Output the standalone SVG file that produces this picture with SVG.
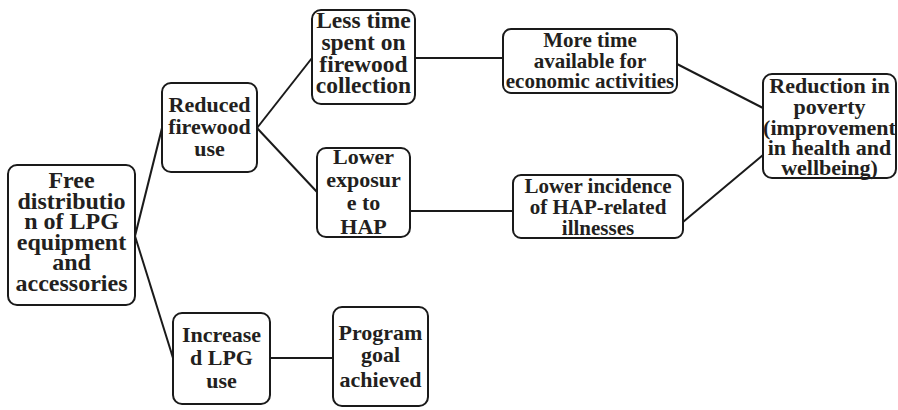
<svg xmlns="http://www.w3.org/2000/svg" width="898" height="410" viewBox="0 0 898 410">
<style>
.box{fill:#fff;stroke:#1a1a1a;stroke-width:2}
.t{font-family:"Liberation Serif","Times New Roman",serif;font-weight:bold;font-size:22px;fill:#231f20;text-anchor:middle}
.big{font-size:24px}
.mid{font-size:23.5px}
.sm{font-size:21px}
.c{stroke:#1a1a1a;stroke-width:2;fill:none}
</style>
<rect width="898" height="410" fill="#fff"/>
<g id="connectors">
<line class="c" x1="135" y1="236" x2="162" y2="128"/>
<line class="c" x1="135" y1="236" x2="173" y2="358"/>
<line class="c" x1="257" y1="128" x2="312" y2="58"/>
<line class="c" x1="257" y1="128" x2="317" y2="192"/>
<line class="c" x1="415" y1="58" x2="503" y2="58"/>
<line class="c" x1="410" y1="211" x2="513" y2="211"/>
<line class="c" x1="677" y1="64" x2="763" y2="108"/>
<line class="c" x1="683" y1="222" x2="763" y2="155"/>
<line class="c" x1="270" y1="358" x2="333" y2="358"/>
</g>
<g id="n1">
<rect class="box" x="8" y="165" width="127" height="140" rx="9"/>
<text class="t big" x="71.5" y="188">Free</text>
<text class="t big" x="71.5" y="208.5">distributio</text>
<text class="t big" x="71.5" y="229">n of LPG</text>
<text class="t big" x="71.5" y="249.5">equipment</text>
<text class="t big" x="71.5" y="270">and</text>
<text class="t big" x="71.5" y="290.5">accessories</text>
</g>
<g id="n2">
<rect class="box" x="162" y="83" width="95" height="89" rx="9"/>
<text class="t" x="209.5" y="112">Reduced</text>
<text class="t" x="209.5" y="134">firewood</text>
<text class="t" x="209.5" y="156">use</text>
</g>
<g id="n3">
<rect class="box" x="312" y="10" width="103" height="94" rx="9"/>
<text class="t mid" x="363.5" y="28">Less time</text>
<text class="t mid" x="363.5" y="49.5">spent on</text>
<text class="t mid" x="363.5" y="71.5">firewood</text>
<text class="t mid" x="363.5" y="93">collection</text>
</g>
<g id="n4">
<rect class="box" x="317" y="148" width="93" height="89" rx="9"/>
<text class="t" x="363.5" y="164">Lower</text>
<text class="t" x="363.5" y="187">exposur</text>
<text class="t" x="363.5" y="210">e to</text>
<text class="t" x="363.5" y="234">HAP</text>
</g>
<g id="n5">
<rect class="box" x="503" y="29" width="174" height="64" rx="8"/>
<text class="t sm" x="590" y="47">More time</text>
<text class="t sm" x="590" y="68">available for</text>
<text class="t sm" x="590" y="88">economic activities</text>
</g>
<g id="n6">
<rect class="box" x="513" y="175" width="170" height="63" rx="8"/>
<text class="t sm" x="598" y="193">Lower incidence</text>
<text class="t sm" x="598" y="214">of HAP-related</text>
<text class="t sm" x="598" y="235">illnesses</text>
</g>
<g id="n7">
<rect class="box" x="763" y="74" width="133" height="104" rx="9"/>
<text class="t" x="829.5" y="93">Reduction in</text>
<text class="t" x="829.5" y="114">poverty</text>
<text class="t" x="829.5" y="135">(improvement</text>
<text class="t" x="829.5" y="155">in health and</text>
<text class="t" x="829.5" y="175">wellbeing)</text>
</g>
<g id="n8">
<rect class="box" x="173" y="313" width="97" height="91" rx="9"/>
<text class="t" x="221.5" y="342">Increase</text>
<text class="t" x="221.5" y="365">d LPG</text>
<text class="t" x="221.5" y="388">use</text>
</g>
<g id="n9">
<rect class="box" x="333" y="307" width="95" height="99" rx="9"/>
<text class="t" x="380.5" y="340">Program</text>
<text class="t" x="380.5" y="362">goal</text>
<text class="t" x="380.5" y="387">achieved</text>
</g>
</svg>
